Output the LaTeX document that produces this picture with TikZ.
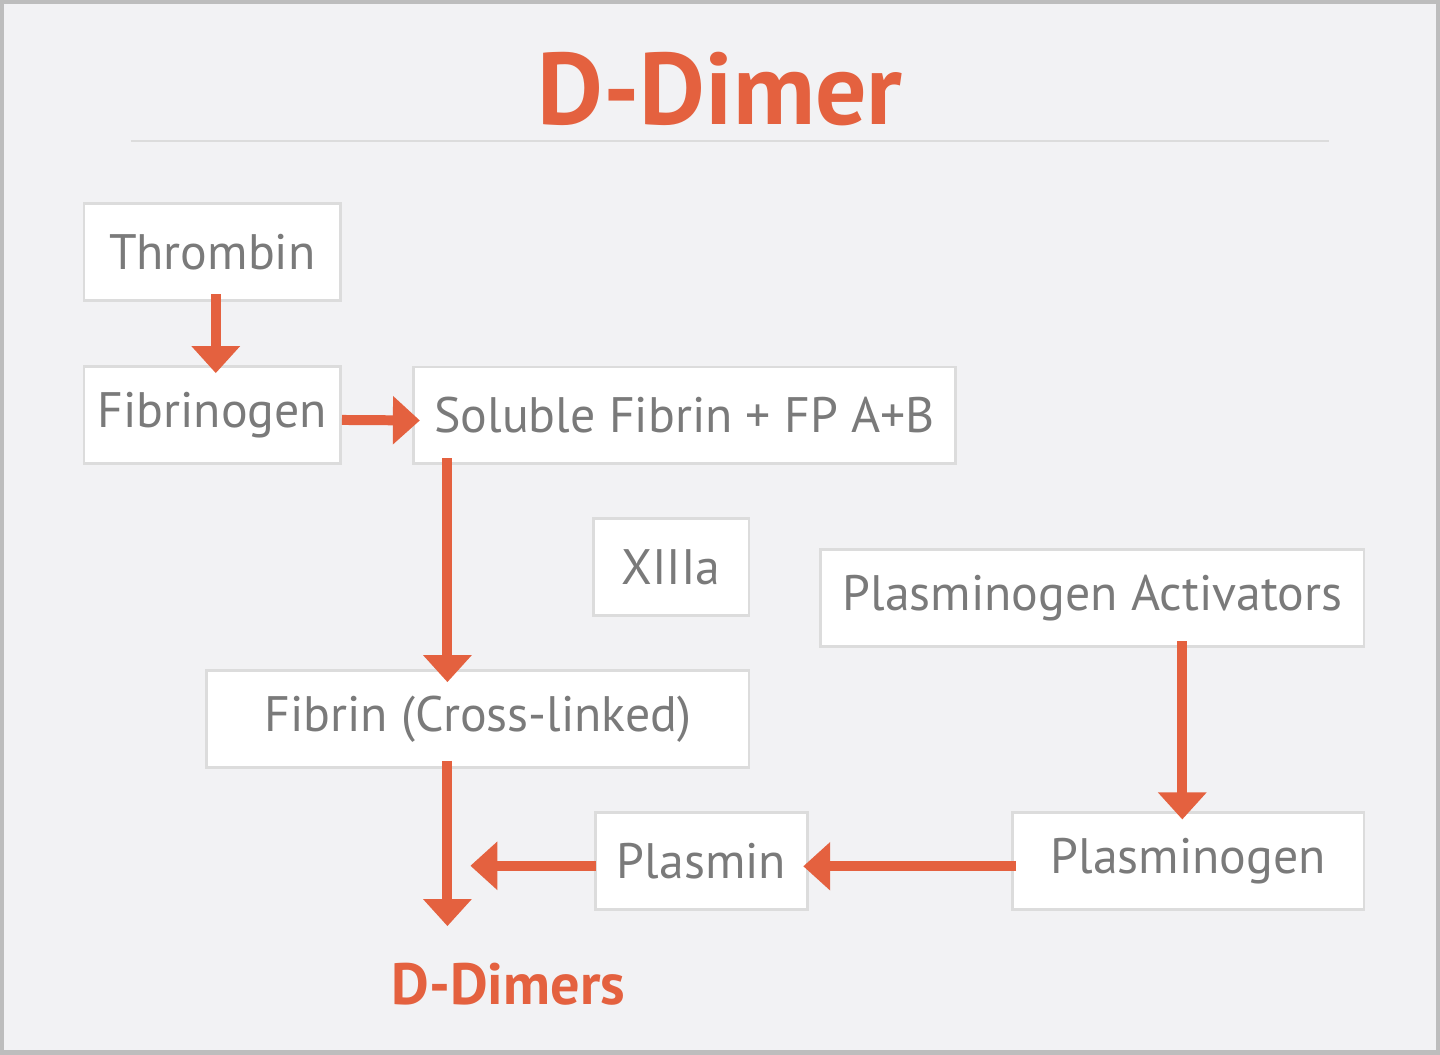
\documentclass[tikz,border=0pt]{standalone}
\usepackage{fontspec}
\setmainfont{PT Sans}
\usepackage{tikz}
\usetikzlibrary{arrows.meta, positioning, calc}
\definecolor{pagebg}{HTML}{F2F2F4}
\definecolor{frameline}{HTML}{BDBDBD}
\definecolor{boxline}{HTML}{DCDCDC}
\definecolor{greytext}{HTML}{7A7A7A}
\definecolor{dimerorange}{HTML}{E4613F}
\tikzset{
    path box/.style={
        rectangle,
        fill=white,
        draw=boxline,
        line width=0.8pt,
        inner sep=0pt,
        minimum height=0.97cm,
        text=greytext,
        font=\fontsize{14.2}{17}\selectfont
    },
    path arrow/.style={
        draw=dimerorange,
        line width=0.1cm,
        -{Triangle[length=0.27cm, width=0.47cm]}
    }
}
\begin{document}
\begin{tikzpicture}
                % Background and frame
                \fill[pagebg] (0,0) rectangle (14.4,-10.54);
                \draw[frameline, line width=1.2pt] (0.01,-0.01) rectangle (14.39,-10.53);
                \draw[boxline, line width=0.6pt] (1.3,-1.4) -- (13.3,-1.4);

                % Title
                \node[font=\bfseries\fontsize{29}{32}\selectfont, text=dimerorange] (title) at (7.2,-0.88) {D-Dimer};

                % Boxes
                \node[path box, minimum width=2.57cm] (thr) at (2.115,-2.515) {Thrombin};
                \node[path box, minimum width=2.57cm] (fbg) at (2.115,-4.145) {Fibrinogen};
                \node[path box, minimum width=5.43cm] (sol) at (6.845,-4.15) {Soluble Fibrin + FP A+B};
                \node[path box, minimum width=1.56cm] (xiii) at (6.71,-5.67) {XIIIa};
                \node[path box, minimum width=5.44cm] (pa) at (10.93,-5.98) {Plasminogen Activators};
                \node[path box, minimum width=5.43cm] (fcl) at (4.775,-7.19) {Fibrin (Cross-linked)};
                \node[path box, minimum width=2.13cm] (pls) at (7.015,-8.615) {Plasmin};
                \node[path box, minimum width=3.52cm] (plg) at (11.89,-8.615) {Plasminogen};

                % Result
                \node[font=\bfseries\fontsize{16.6}{20}\selectfont, text=dimerorange] (dd) at (5.08,-9.85) {D-Dimers};

                % Helper coordinates for the main trunk
                \coordinate (trunk) at (4.47,-6);
                \coordinate (cut) at (4.70,-8.66);

                % Arrows
                \draw[path arrow] ($(thr.south)+(0.035,0.08)$) -- ($(fbg.north)+(0.035,-0.08)$);
                \draw[path arrow] ($(fbg.east)+(0,-0.05)$) -- ($(sol.west -| fbg.east)+(0.78,-0.05)$);
                \draw[path arrow] ($(sol.south -| trunk)+(0,0.07)$) -- ($(fcl.north -| trunk)+(0,-0.13)$);
                \draw[path arrow] ($(fcl.south -| trunk)+(0,0.08)$) -- ($(dd.north -| trunk)+(0,0.25)$);
                \draw[path arrow] ($(pls.west)+(0.02,-0.045)$) -- (cut);
                \draw[path arrow] ($(plg.west)+(0.05,-0.05)$) -- ($(pls.east)+(-0.06,-0.05)$);
                \draw[path arrow] ($(pa.south -| plg.north)+(-0.06,0.07)$) -- ($(plg.north)+(-0.06,-0.08)$);
\end{tikzpicture}
\end{document}
